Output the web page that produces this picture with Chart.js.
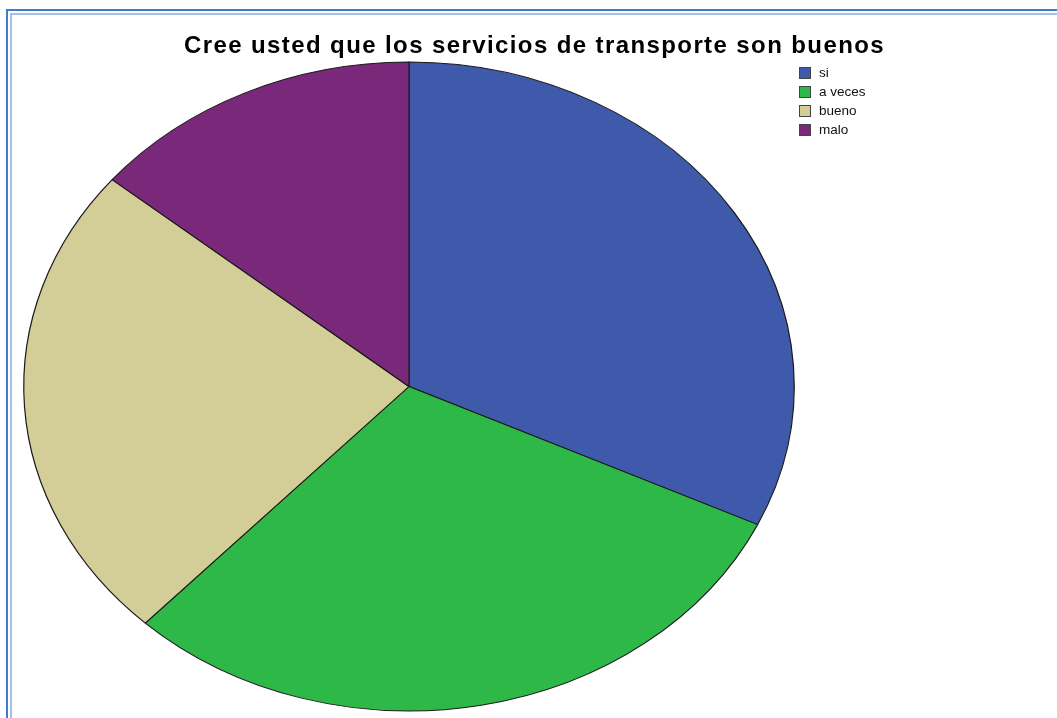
<!DOCTYPE html>
<html>
<head>
<meta charset="utf-8">
<script src="https://cdn.jsdelivr.net/npm/chart.js@4.4.1/dist/chart.umd.min.js"></script>
<style>
  html, body { margin: 0; padding: 0; background: #fff; overflow: hidden; }
  #wrap { position: relative; width: 1057px; height: 718px; }
  #frameOuter { position: absolute; left: 6px; top: 9px; width: 1100px; height: 800px;
    border-left: 2px solid #3f7dcc; border-top: 2px solid #3f7dcc; }
  #frameInner { position: absolute; left: 10px; top: 13px; width: 1100px; height: 800px;
    border-left: 2px solid #a3c0ea; border-top: 2px solid #a3c0ea; }
  #pie { position: absolute; left: 0; top: 0; }
  #title { position: absolute; left: 0; width: 1069px; top: 31px; text-align: center;
    font-family: "Liberation Sans", Arial, sans-serif; font-weight: bold; font-size: 24px;
    letter-spacing: 1.4px; color: #000; line-height: 28px; }
  #legend { position: absolute; left: 799px; top: 65px;
    font-family: "Liberation Sans", Arial, sans-serif; font-size: 13.5px; color: #111; }
  .item { height: 19px; line-height: 15px; white-space: nowrap; }
  .box { display: inline-block; width: 12px; height: 12px; border: 1px solid #444;
    vertical-align: -2px; margin-right: 8px; box-sizing: border-box; }
</style>
</head>
<body>
<div id="wrap">
  <div id="frameOuter"></div>
  <div id="frameInner"></div>
  <canvas id="pie" width="1057" height="718"></canvas>
  <div id="title">Cree usted que los servicios de transporte son buenos</div>
  <div id="legend"></div>
</div>
<script>
const categories = ["si", "a veces", "bueno", "malo"];
const counts = [32, 30, 24, 14];
const sliceColors = ["#3f59ab", "#2eb848", "#d3cd97", "#79287a"];

// SPSS draws the pie as an ellipse, so stretch the circle sideways
const stretchX = 385.25 / 324.5;
const ellipsePlugin = {
    id: "ellipse",
    beforeDatasetsDraw: function (chart) {
        const arc = chart.getDatasetMeta(0).data[0];
        const ctx = chart.ctx;
        ctx.save();
        ctx.translate(arc.x, arc.y);
        ctx.scale(stretchX, 1);
        ctx.translate(-arc.x, -arc.y);
    },
    afterDatasetsDraw: function (chart) {
        chart.ctx.restore();
    }
};

const ctx = document.getElementById("pie").getContext("2d");
const chart = new Chart(ctx, {
    type: "pie",
    data: {
        labels: categories,
        datasets: [{
            data: counts,
            backgroundColor: sliceColors,
            borderColor: "#1a1a1a",
            borderWidth: 1,
            radius: 324.5
        }]
    },
    options: {
        responsive: false,
        animation: false,
        events: [],
        layout: {
            padding: { left: 24, right: 263, top: 62, bottom: 7 }
        },
        plugins: {
            legend: { display: false },
            title: { display: false },
            tooltip: { enabled: false }
        }
    },
    plugins: [ellipsePlugin]
});

// legend from the chart's own legend items
let items;
try {
    items = chart.options.plugins.legend.labels.generateLabels(chart);
} catch (e) {
    items = categories.map(function (c, i) {
        return { text: c, fillStyle: sliceColors[i] };
    });
}
let html = "";
items.forEach(function (it) {
    html += `<div class="item"><span class="box" style="background:${it.fillStyle}"></span>${it.text}</div>`;
});
document.getElementById("legend").innerHTML = html;
</script>
</body>
</html>
